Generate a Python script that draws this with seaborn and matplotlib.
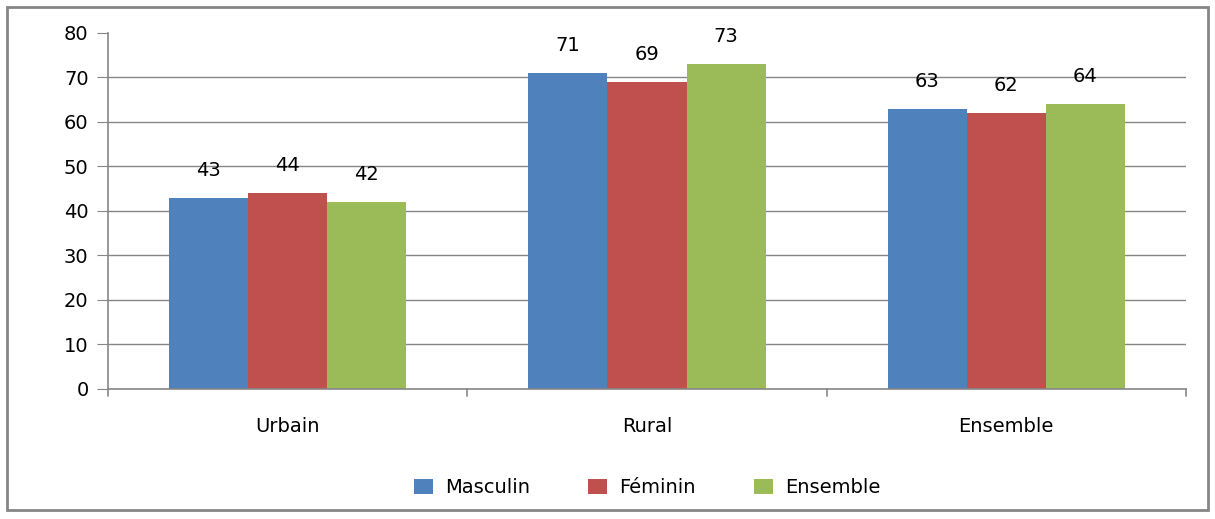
import pandas as pd
import matplotlib
matplotlib.use("Agg")
import matplotlib.pyplot as plt
from matplotlib.patches import Rectangle
import seaborn as sns

categories = ["Urbain", "Rural", "Ensemble"]
series = ["Masculin", "Féminin", "Ensemble"]
masculin = [43, 71, 63]
feminin = [44, 69, 62]
ensemble = [42, 73, 64]
colors = ["#4F81BD", "#C0504D", "#9BBB59"]

rows = []
for name, vals in zip(series, [masculin, feminin, ensemble]):
    for cat, v in zip(categories, vals):
        rows.append({"Zone": cat, "Sexe": name, "Valeur": v})
df = pd.DataFrame(rows)

sns.set_style("white")
plt.rcParams["font.family"] = ["DejaVu Sans"]

fig = plt.figure(figsize=(12.15, 5.19), dpi=100)
ax = fig.add_axes([0.0889, 0.2505, 0.8872, 0.6860])

sns.barplot(data=df, x="Zone", y="Valeur", hue="Sexe", palette=colors,
            width=0.66, gap=0, saturation=1, linewidth=0, ax=ax, legend=True)

ax.set_ylim(0, 80)
ax.set_xlim(-0.5, 2.5)
ax.set_yticks(range(0, 81, 10))
for y in range(10, 80, 10):
    ax.axhline(y, color="#868686", lw=1, zorder=0)

for c in ax.containers:
    ax.bar_label(c, labels=[str(int(v)) for v in c.datavalues], padding=13,
                 fontsize=14, color="black")

for s in ["top", "right"]:
    ax.spines[s].set_visible(False)
for s in ["left", "bottom"]:
    ax.spines[s].set_color("#868686")
    ax.spines[s].set_linewidth(1.2)

ax.tick_params(axis="y", length=8, color="#868686", labelsize=14, pad=6,
               left=True, labelcolor="black")
ax.set_xticks([0, 1, 2])
ax.set_xticklabels(categories, fontsize=14, color="black")
ax.tick_params(axis="x", length=0, pad=20)
for xb in [-0.5, 0.5, 1.5, 2.5]:
    ax.plot([xb, xb], [0, -0.02], transform=ax.get_xaxis_transform(),
            color="#868686", lw=1.2, clip_on=False)

ax.set_xlabel("")
ax.set_ylabel("")

leg = ax.legend(loc="center", bbox_to_anchor=(0.5, -0.278), ncol=3, frameon=False,
                fontsize=14, handlelength=1.0, handleheight=0.8, columnspacing=3.0,
                handletextpad=0.6, labelcolor="black")

fig.patches.append(Rectangle((0.006, 0.017), 0.988, 0.97, transform=fig.transFigure,
                             fill=False, edgecolor="#868686", lw=2))

fig.savefig("out.png", dpi=100)
